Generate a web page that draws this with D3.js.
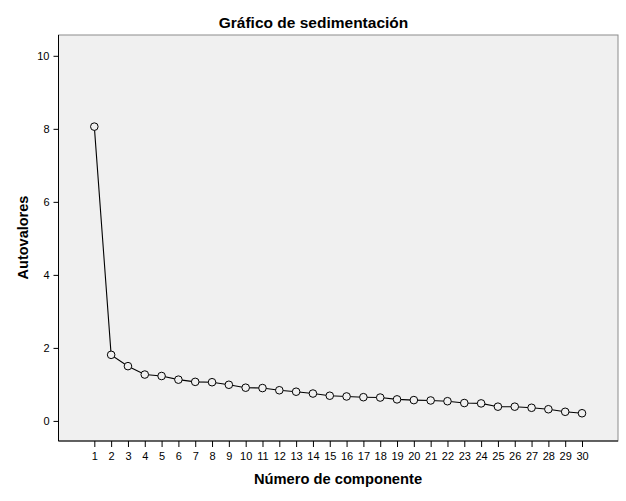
<!DOCTYPE html>
<html>
<head>
<meta charset="utf-8">
<script src="https://cdn.jsdelivr.net/npm/d3@7"></script>
<style>
  body { margin: 0; background: #fff; }
  text { font-family: "Liberation Sans", Arial, sans-serif; }
</style>
</head>
<body>
<script>
const componentes = d3.range(1, 31);
const autovalores = [8.06, 1.81, 1.50, 1.27, 1.23, 1.13, 1.07, 1.06, 0.99, 0.91,
  0.90, 0.84, 0.80, 0.75, 0.69, 0.67, 0.65, 0.64, 0.59, 0.57,
  0.56, 0.54, 0.49, 0.48, 0.39, 0.39, 0.36, 0.32, 0.25, 0.21];
const yTicks = [0, 2, 4, 6, 8, 10];

let width = 626;
let height = 501;
let margin = { top: 35, bottom: 60, left: 58.5, right: 8 };

let svg = d3.select("body").append("svg")
  .attr("width", width)
  .attr("height", height);

let xScale = d3.scaleLinear()
  .domain([-1.13, 32.14])
  .range([margin.left, width - margin.right]);
let yScale = d3.scaleLinear()
  .domain([-0.55, 10.57])
  .range([height - margin.bottom, margin.top]);

// fondo del grafico
svg.append("rect")
  .attr("x", margin.left)
  .attr("y", margin.top)
  .attr("width", width - margin.left - margin.right)
  .attr("height", height - margin.top - margin.bottom)
  .attr("fill", "#f0f0f0")
  .attr("stroke", "#8c8c8c")
  .attr("stroke-width", 1);

let xAxis = d3.axisBottom(xScale).tickValues(componentes).tickSize(6).tickSizeOuter(0);
let yAxis = d3.axisLeft(yScale).tickValues(yTicks).tickSize(5).tickSizeOuter(0);

svg.append("g")
  .attr("transform", `translate(0, ${height - margin.bottom})`)
  .call(xAxis)
  .call(g => g.select(".domain").attr("stroke", "#000").attr("d", `M${margin.left},0H${width - margin.right}`))
  .call(g => g.selectAll("text").attr("font-size", 11).attr("fill", "#000").attr("dy", "0.9em"));

svg.append("g")
  .attr("transform", `translate(${margin.left}, 0)`)
  .call(yAxis)
  .call(g => g.select(".domain").attr("stroke", "#000").attr("d", `M0,${margin.top}V${height - margin.bottom}`))
  .call(g => g.selectAll("text").attr("font-size", 11).attr("fill", "#000").attr("dx", "-1px"));

let line = d3.line()
  .x((d, i) => xScale(componentes[i]))
  .y(d => yScale(d));

svg.append("path")
  .attr("d", line(autovalores))
  .attr("fill", "none")
  .attr("stroke", "#000")
  .attr("stroke-width", 1.1);

svg.append("g")
  .selectAll("circle")
  .data(autovalores)
  .join("circle")
  .attr("cx", (d, i) => xScale(componentes[i]))
  .attr("cy", d => yScale(d))
  .attr("r", 3.8)
  .attr("fill", "#f0f0f0")
  .attr("stroke", "#000")
  .attr("stroke-width", 1);

// titulos
svg.append("text")
  .attr("x", 313.5)
  .attr("y", 28)
  .attr("text-anchor", "middle")
  .attr("font-size", 15.5)
  .attr("font-weight", "bold")
  .text("Gráfico de sedimentación");

svg.append("text")
  .attr("x", 338)
  .attr("y", 484)
  .attr("text-anchor", "middle")
  .attr("font-size", 14.7)
  .attr("font-weight", "bold")
  .text("Número de componente");

svg.append("text")
  .attr("transform", `translate(27.5, 237.5) rotate(-90)`)
  .attr("text-anchor", "middle")
  .attr("font-size", 14.5)
  .attr("font-weight", "bold")
  .text("Autovalores");
</script>
</body>
</html>
